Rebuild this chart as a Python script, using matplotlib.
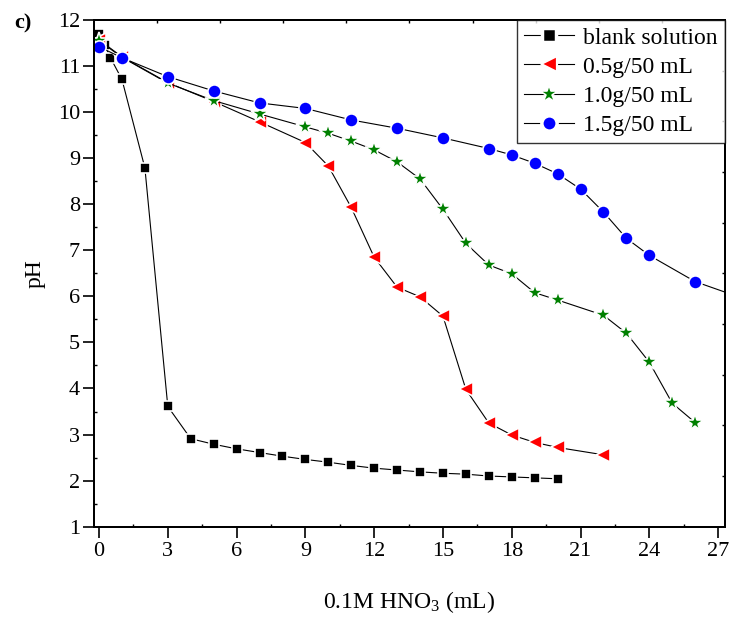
import numpy as np
import matplotlib
matplotlib.use("Agg")
import matplotlib.pyplot as plt
from matplotlib.ticker import MultipleLocator

plt.rcParams['font.family'] = ['Liberation Serif', 'DejaVu Serif']
plt.rcParams['mathtext.fontset'] = 'custom'
plt.rcParams['mathtext.rm'] = 'Liberation Serif'
plt.rcParams['mathtext.it'] = 'Liberation Serif:italic'

# Titration of 0.1M HNO3 into suspensions (pH vs volume added)
x_blank = [0, 0.25, 0.5, 1, 2, 3, 4, 5, 6, 7, 8, 9, 10, 11, 12, 13, 14, 15, 16, 17, 18, 19, 20]
ph_blank = [11.70, 11.45, 11.18, 10.71, 8.79, 3.61, 2.91, 2.79, 2.69, 2.61, 2.53, 2.46, 2.40,
            2.33, 2.27, 2.23, 2.19, 2.16, 2.14, 2.10, 2.08, 2.06, 2.04]

x_05 = [0, 1, 3, 5, 7, 9, 10, 11, 12, 13, 14, 15, 16, 17, 18, 19, 20, 22]
ph_05 = [11.57, 11.20, 10.64, 10.23, 9.79, 9.34, 8.83, 7.93, 6.85, 6.20, 5.99, 5.57, 3.98,
         3.25, 2.99, 2.83, 2.72, 2.56]

x_10 = [0, 1, 3, 5, 7, 9, 10, 11, 12, 13, 14, 15, 16, 17, 18, 19, 20, 22, 23, 24, 25, 26]
ph_10 = [11.55, 11.19, 10.63, 10.25, 9.96, 9.68, 9.54, 9.37, 9.18, 8.92, 8.55, 7.89, 7.15,
         6.68, 6.49, 6.08, 5.92, 5.59, 5.20, 4.57, 3.68, 3.26]

x_15 = [0, 1, 3, 5, 7, 9, 11, 13, 15, 17, 18, 19, 20, 21, 22, 23, 24, 26, 28]
ph_15 = [11.42, 11.18, 10.77, 10.46, 10.20, 10.08, 9.83, 9.65, 9.44, 9.21, 9.07, 8.89, 8.66,
         8.33, 7.83, 7.26, 6.89, 6.32, 5.97]

labels = ['blank solution', '0.5g/50 mL', '1.0g/50 mL', '1.5g/50 mL']
x_ticks = [0, 3, 6, 9, 12, 15, 18, 21, 24, 27]
y_ticks = [1, 2, 3, 4, 5, 6, 7, 8, 9, 10, 11, 12]

fig = plt.figure(figsize=(7.33, 6.23), dpi=100)
ax = fig.add_axes([0.1282, 0.1546, 0.9891 - 0.1282, 0.9679 - 0.1546])

common = dict(color='black', lw=0.8, mec='white', mew=1.2)
ax.plot(x_blank, ph_blank, marker='s', ms=7.5, mfc='black', label=labels[0], **common)
ax.plot(x_05, ph_05, marker='<', ms=10, mfc='#ff0000', label=labels[1], **common)
ax.plot(x_10, ph_10, marker='*', ms=13, mfc='#008000', label=labels[2], **common)
ax.plot(x_15, ph_15, marker='o', ms=9.5, mfc='#0000ff', label=labels[3], **common)

ax.set_xlim(-0.22, 27.3)
ax.set_ylim(1, 12)
ax.set_xticks(x_ticks)
ax.set_yticks(y_ticks)
ax.xaxis.set_minor_locator(MultipleLocator(1.5))
ax.yaxis.set_minor_locator(MultipleLocator(0.5))
ax.tick_params(which='major', direction='out', length=8, width=1.2, labelsize=16, pad=2)
ax.tick_params(which='minor', direction='in', length=2.5, width=1.0)
ax.tick_params(axis='x', which='major', pad=3)
for s in ax.spines.values():
    s.set_linewidth(1.3)

ax.set_xlabel(r'0.1M HNO$_3$ (mL)', fontsize=17, labelpad=20)
ax.set_ylabel('pH', fontsize=17, labelpad=9)

# Tick marks on the top and right frame edges
ax_top = ax.twiny()
ax_top.set_xlim(0, 1)
ax_top.set_xticks(np.arange(1, 10) / 10)
ax_top.tick_params(axis='x', direction='in', length=2.5, width=1.0, labeltop=False)
ax_right = ax.twinx()
ax_right.set_ylim(0, 1)
ax_right.set_yticks(np.arange(1, 10) / 10)
ax_right.tick_params(axis='y', direction='in', length=2.5, width=1.0, labelright=False)
for a in (ax_top, ax_right):
    for s in a.spines.values():
        s.set_linewidth(1.3)

leg = ax_right.legend(*ax.get_legend_handles_labels(), loc='upper right', fontsize=17,
                      frameon=True, fancybox=False, borderaxespad=0, handlelength=2.1,
                      handletextpad=0.4, labelspacing=0.32, borderpad=0.3)
leg.get_frame().set_edgecolor('black')
leg.get_frame().set_linewidth(1.0)
# key symbols: size and white halo so the line stops short of each symbol
key_sizes = [9.5, 12.0, 13.5, 11.0]
key_halo = [2.5, 1.6, 1.2, 2.5]
for h, size, halo in zip(leg.legend_handles, key_sizes, key_halo):
    h.set_markersize(size)
    h.set_markeredgewidth(halo)

fig.text(0.031, 0.962, 'c)', fontsize=16, fontweight='bold', ha='center', va='center')

fig.savefig('out.png', dpi=100)
